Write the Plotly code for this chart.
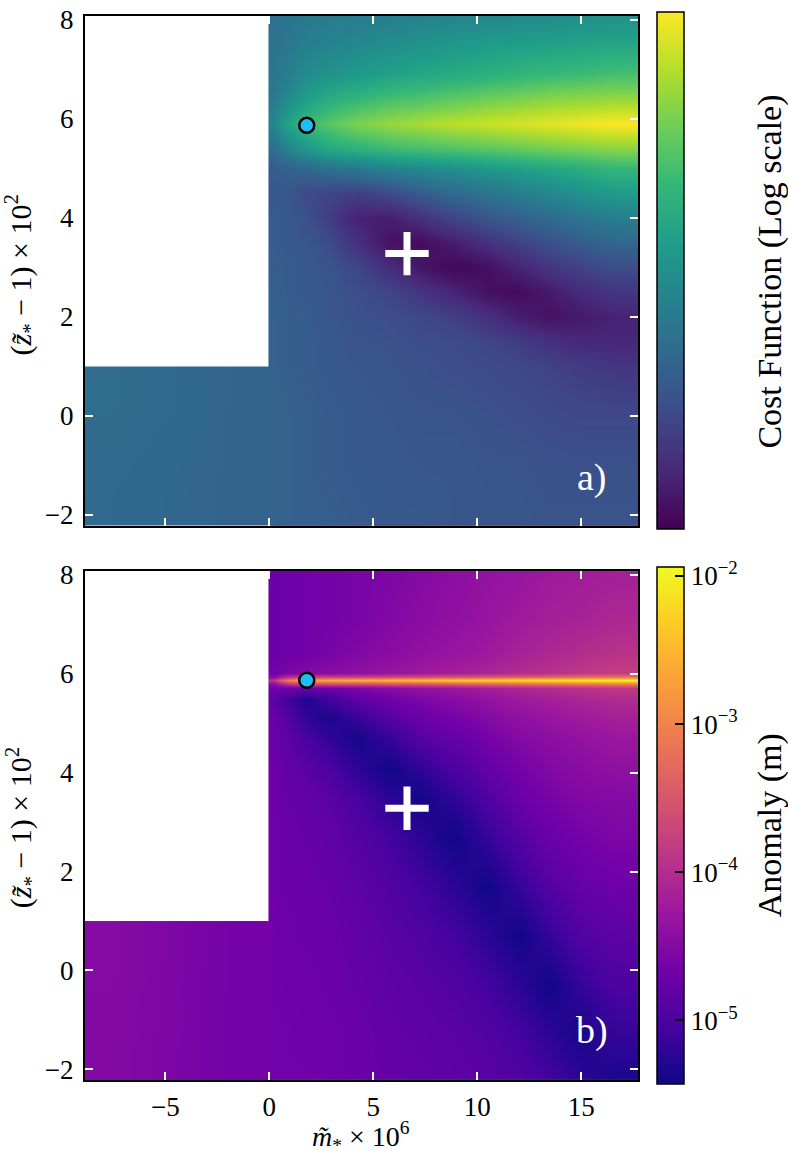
import numpy as np
import plotly.graph_objects as go

FONT = "Liberation Serif"

# axis extents
M_RANGE = [-8.86, 17.74]
Z_RANGE = [-2.22, 8.08]
M_TICKS = [-5, 0, 5, 10, 15]
M_TICK_TEXT = ["\u22125", "0", "5", "10", "15"]
Z_TICKS = [-2, 0, 2, 4, 6, 8]
Z_TICK_TEXT = ["\u22122", "0", "2", "4", "6", "8"]

# cell edges (m* x 1e6) of the region m* >= 0
M_EDGES = [-0.04, 0.5, 1.3, 2.3, 3.5, 5, 6.5, 8, 9.75, 11.25, 12.75, 14.25, 15.75, 17.74]
# cell edges of the m* < 0 strip, only computed below (z*-1) x 1e2 = 1
M_EDGES_NEG = [-9.2, -6, -3, 0.1]
Z_EDGES_NEG = [-2.5, -0.6, 1.0]

# a) cost function, log scale normalised 0..1, one list per m* column (bottom -> top)
COST_Z = [-2.22, -1, 0, 1, 1.5, 2, 2.5, 3, 3.5, 4, 4.5, 5, 5.4, 5.9, 6.4, 6.9, 7.5, 8.08]
COST = [
    [0.32, 0.32, 0.32, 0.31, 0.31, 0.31, 0.30, 0.30, 0.29, 0.29, 0.28, 0.29, 0.36, 0.46, 0.41, 0.39, 0.38, 0.37],
    [0.31, 0.31, 0.31, 0.30, 0.30, 0.30, 0.29, 0.29, 0.28, 0.28, 0.27, 0.31, 0.45, 0.58, 0.48, 0.43, 0.40, 0.38],
    [0.30, 0.30, 0.30, 0.29, 0.29, 0.29, 0.28, 0.28, 0.27, 0.25, 0.23, 0.33, 0.53, 0.67, 0.56, 0.48, 0.43, 0.40],
    [0.30, 0.29, 0.29, 0.28, 0.28, 0.27, 0.27, 0.26, 0.23, 0.18, 0.21, 0.37, 0.60, 0.74, 0.62, 0.51, 0.45, 0.41],
    [0.29, 0.28, 0.28, 0.27, 0.26, 0.25, 0.24, 0.21, 0.14, 0.09, 0.19, 0.40, 0.64, 0.80, 0.66, 0.54, 0.47, 0.42],
    [0.28, 0.28, 0.27, 0.26, 0.25, 0.24, 0.21, 0.13, 0.05, 0.08, 0.23, 0.44, 0.68, 0.84, 0.70, 0.57, 0.49, 0.43],
    [0.28, 0.27, 0.26, 0.25, 0.24, 0.22, 0.16, 0.06, 0.03, 0.14, 0.29, 0.47, 0.70, 0.87, 0.72, 0.59, 0.51, 0.44],
    [0.27, 0.27, 0.26, 0.24, 0.23, 0.19, 0.10, 0.02, 0.08, 0.21, 0.35, 0.50, 0.72, 0.90, 0.75, 0.61, 0.53, 0.45],
    [0.27, 0.26, 0.25, 0.23, 0.21, 0.14, 0.04, 0.04, 0.14, 0.27, 0.39, 0.53, 0.74, 0.92, 0.78, 0.63, 0.55, 0.46],
    [0.27, 0.26, 0.24, 0.22, 0.18, 0.08, 0.03, 0.10, 0.20, 0.31, 0.43, 0.56, 0.76, 0.94, 0.80, 0.65, 0.56, 0.47],
    [0.26, 0.25, 0.23, 0.20, 0.14, 0.05, 0.07, 0.16, 0.25, 0.35, 0.47, 0.59, 0.78, 0.96, 0.82, 0.67, 0.57, 0.48],
    [0.26, 0.25, 0.22, 0.18, 0.11, 0.07, 0.12, 0.20, 0.29, 0.39, 0.51, 0.62, 0.80, 0.98, 0.83, 0.68, 0.58, 0.49],
    [0.26, 0.25, 0.22, 0.16, 0.11, 0.10, 0.16, 0.24, 0.33, 0.43, 0.55, 0.66, 0.82, 1.00, 0.84, 0.70, 0.59, 0.50],
]
COST_NEG = [
    [0.34, 0.33, 0.32],
    [0.35, 0.34, 0.32],
]

# b) anomaly, log10 of metres, one list per m* column (bottom -> top)
ANOM_Z = [-2.22, -1.25, -0.3, 0.7, 1.7, 2.7, 3.5, 4.1, 4.7, 5.1, 5.5, 5.72, 5.8, 5.87, 5.94, 6.02, 6.4, 7.1, 8.08]
ANOM = [
    [-4.66, -4.66, -4.66, -4.66, -4.70, -4.70, -4.70, -4.70, -4.73, -4.73, -4.84, -4.66, -4.45, -3.96, -4.45, -4.66, -4.73, -4.73, -4.73],
    [-4.66, -4.66, -4.70, -4.70, -4.73, -4.73, -4.77, -4.80, -4.84, -4.91, -5.08, -4.66, -3.96, -3.06, -3.96, -4.56, -4.70, -4.70, -4.70],
    [-4.66, -4.70, -4.70, -4.73, -4.73, -4.77, -4.80, -4.87, -5.01, -5.19, -5.29, -4.73, -3.69, -2.71, -3.69, -4.49, -4.66, -4.66, -4.66],
    [-4.70, -4.70, -4.73, -4.73, -4.77, -4.80, -4.87, -4.98, -5.19, -5.33, -5.08, -4.66, -3.69, -2.64, -3.69, -4.45, -4.59, -4.63, -4.63],
    [-4.73, -4.73, -4.77, -4.80, -4.84, -4.91, -5.01, -5.22, -5.36, -5.15, -4.84, -4.56, -3.69, -2.57, -3.69, -4.38, -4.52, -4.59, -4.59],
    [-4.77, -4.80, -4.84, -4.87, -4.94, -5.05, -5.22, -5.40, -5.15, -4.91, -4.66, -4.45, -3.62, -2.50, -3.62, -4.31, -4.45, -4.52, -4.56],
    [-4.80, -4.84, -4.87, -4.94, -5.05, -5.22, -5.40, -5.19, -4.91, -4.73, -4.56, -4.35, -3.55, -2.43, -3.55, -4.24, -4.38, -4.45, -4.49],
    [-4.84, -4.87, -4.94, -5.05, -5.22, -5.40, -5.19, -4.98, -4.77, -4.63, -4.45, -4.28, -3.48, -2.32, -3.48, -4.17, -4.31, -4.38, -4.42],
    [-4.87, -4.94, -5.05, -5.22, -5.40, -5.15, -4.94, -4.77, -4.63, -4.49, -4.35, -4.17, -3.41, -2.25, -3.41, -4.10, -4.24, -4.31, -4.35],
    [-4.94, -5.05, -5.22, -5.40, -5.15, -4.91, -4.73, -4.63, -4.49, -4.38, -4.24, -4.07, -3.34, -2.18, -3.34, -4.00, -4.14, -4.24, -4.31],
    [-5.05, -5.22, -5.40, -5.15, -4.91, -4.73, -4.59, -4.52, -4.42, -4.31, -4.17, -4.00, -3.27, -2.11, -3.27, -3.93, -4.07, -4.17, -4.24],
    [-5.22, -5.36, -5.15, -4.94, -4.77, -4.63, -4.52, -4.45, -4.35, -4.24, -4.10, -3.93, -3.20, -2.04, -3.20, -3.86, -4.00, -4.14, -4.21],
    [-5.33, -5.15, -4.98, -4.84, -4.70, -4.56, -4.49, -4.38, -4.28, -4.17, -4.03, -3.86, -3.13, -1.98, -3.13, -3.79, -3.93, -4.07, -4.17],
]
ANOM_NEG = [
    [-4.50, -4.57, -4.64],
    [-4.48, -4.56, -4.64],
]
ANOM_RANGE = [-5.43, -1.94]
ANOM_TICKS = [-5, -4, -3, -2]
ANOM_TICK_TEXT = ["10<sup>\u22125</sup>", "10<sup>\u22124</sup>", "10<sup>\u22123</sup>", "10<sup>\u22122</sup>"]

# the two marked parameter pairs
CIRCLE_M, CIRCLE_Z = [1.8], [5.87]
PLUS_M, PLUS_Z = [6.62], [3.28]

W, H = 788, 1157
X_DOM = [85 / W, 638.3 / W]
TOP_DOM = [1 - 521.7 / H, 1 - 5 / H]
BOT_DOM = [1 - 1083.3 / H, 1 - 567.3 / H]

fig = go.Figure()


def add_panel(cols, rows, neg, cax, xa, ya):
    fig.add_trace(go.Heatmap(
        x=M_EDGES, y=rows, z=np.array(cols).T, zsmooth="best",
        coloraxis=cax, xaxis=xa, yaxis=ya, hoverinfo="skip",
    ))
    fig.add_trace(go.Heatmap(
        x=M_EDGES_NEG, y=Z_EDGES_NEG, z=neg, zsmooth="best",
        coloraxis=cax, xaxis=xa, yaxis=ya, hoverinfo="skip",
    ))
    fig.add_trace(go.Scatter(
        x=PLUS_M, y=PLUS_Z, mode="markers", xaxis=xa, yaxis=ya, hoverinfo="skip",
        marker=dict(symbol="cross-thin", size=31, line=dict(width=7, color="white")),
    ))
    fig.add_trace(go.Scatter(
        x=CIRCLE_M, y=CIRCLE_Z, mode="markers", xaxis=xa, yaxis=ya, hoverinfo="skip",
        marker=dict(size=15, color="#1ebef5", line=dict(width=2.5, color="black")),
    ))


add_panel(COST, COST_Z, COST_NEG, "coloraxis", "x", "y")
add_panel(ANOM, ANOM_Z, ANOM_NEG, "coloraxis2", "x2", "y2")

tick_font = dict(family=FONT, size=27, color="black")
axis_style = dict(
    showgrid=False, zeroline=False, showline=True, linecolor="black", linewidth=2,
    mirror="ticks", ticks="inside", ticklen=8, tickwidth=1.5, tickcolor="white",
    tickfont=tick_font,
)
cbar_style = dict(
    xanchor="left", x=657.3 / W, xpad=0, ypad=0, yanchor="middle",
    lenmode="pixels", len=516.5, thicknessmode="pixels", thickness=26.7,
    outlinecolor="black", outlinewidth=1.5,
)

fig.update_layout(
    width=W, height=H,
    margin=dict(l=0, r=0, t=0, b=0),
    paper_bgcolor="white", plot_bgcolor="white",
    showlegend=False,
    font=dict(family=FONT, color="black"),
    xaxis=dict(domain=X_DOM, anchor="y", range=M_RANGE, tickvals=M_TICKS,
               showticklabels=False, **axis_style),
    yaxis=dict(domain=TOP_DOM, anchor="x", range=Z_RANGE, tickvals=Z_TICKS,
               ticktext=Z_TICK_TEXT, ticklabelstandoff=4, **axis_style),
    xaxis2=dict(domain=X_DOM, anchor="y2", range=M_RANGE, tickvals=M_TICKS,
                ticktext=M_TICK_TEXT, ticklabelstandoff=1, **axis_style),
    yaxis2=dict(domain=BOT_DOM, anchor="x2", range=Z_RANGE, tickvals=Z_TICKS,
                ticktext=Z_TICK_TEXT, ticklabelstandoff=4, **axis_style),
    coloraxis=dict(
        colorscale="Viridis", cmin=0, cmax=1,
        colorbar=dict(y=1 - 263.35 / H, showticklabels=False, ticks="", **cbar_style),
    ),
    coloraxis2=dict(
        colorscale="Plasma", cmin=ANOM_RANGE[0], cmax=ANOM_RANGE[1],
        colorbar=dict(y=1 - 825.3 / H, tickvals=ANOM_TICKS, ticktext=ANOM_TICK_TEXT,
                      ticks="inside", ticklen=9, tickwidth=1.5, tickcolor="black",
                      tickfont=tick_font, **cbar_style),
    ),
)

y_title = "(<i>z\u0303</i><sub>*</sub> \u2212 1) \u00d7 10<sup>2</sup>"
x_title = "<i>m\u0303</i><sub>*</sub> \u00d7 10<sup>6</sup>"
notes = [
    (y_title, 21 / W, 1 - 267 / H, -90, 30, "black"),
    (y_title, 21 / W, 1 - 827 / H, -90, 30, "black"),
    (x_title, 361 / W, 1 - 1140 / H, 0, 28, "black"),
    ("Cost Function (Log scale)", 770 / W, 1 - 264 / H, -90, 34, "black"),
    ("Anomaly (m)", 770 / W, 1 - 825 / H, -90, 34, "black"),
    ("a)", 592 / W, 1 - 473 / H, 0, 38, "white"),
    ("b)", 592 / W, 1 - 1033 / H, 0, 38, "white"),
]
for text, x, y, angle, size, color in notes:
    fig.add_annotation(
        text=text, x=x, y=y, xref="paper", yref="paper", showarrow=False,
        xanchor="center", yanchor="middle", textangle=angle,
        font=dict(family=FONT, size=size, color=color),
    )

# the page body keeps its default 8px margin otherwise, which pushes the figure off the window
fig.write_html(
    "out.html",
    config={"displayModeBar": False},
    post_script="document.body.style.margin = '0';",
)
